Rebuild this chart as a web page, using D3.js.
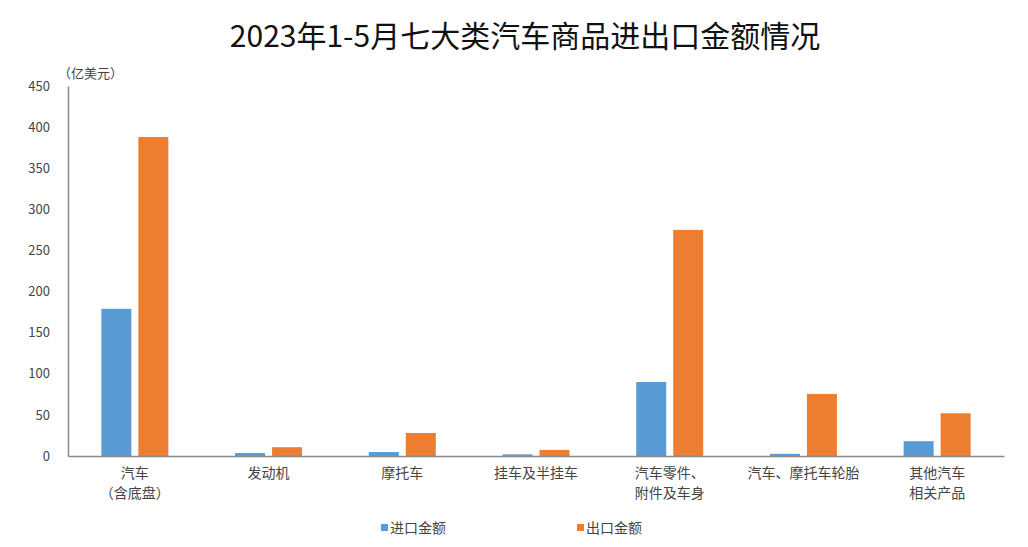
<!DOCTYPE html>
<html>
<head>
<meta charset="utf-8">
<script src="https://cdn.jsdelivr.net/npm/d3@7"></script>
<style>
  body { margin: 0; background: #fff; }
  svg text { font-family: "Noto Sans CJK SC", sans-serif; }
</style>
</head>
<body>
<script>
// dados
var categorias = [['汽车', '（含底盘）'], ['发动机'], ['摩托车'], ['挂车及半挂车'],
  ['汽车零件、', '附件及车身'], ['汽车、摩托车轮胎'], ['其他汽车', '相关产品']]
var importacao = [179, 3.6, 4.8, 2, 90, 2.6, 18]
var exportacao = [388, 10.7, 28, 7.4, 275, 75.5, 52]
var series = ['进口金额', '出口金额']
var cores = ['#5b9bd5', '#ed7d31']
var ticksY = [0, 50, 100, 150, 200, 250, 300, 350, 400, 450]

var largura = 1028, altura = 547
var margem = {topo: 86, direita: 24, base: 91, esquerda: 68}
var w = largura - margem.esquerda - margem.direita
var h = altura - margem.topo - margem.base

var svg = d3.select('body').append('svg')
  .attr('width', largura).attr('height', altura)

svg.append('text')
  .attr('x', 525).attr('y', 47)
  .attr('text-anchor', 'middle')
  .attr('font-size', 30)
  .attr('fill', '#111')
  .text('2023年1-5月七大类汽车商品进出口金额情况')

var g = svg.append('g')
  .attr('transform', 'translate(' + margem.esquerda + ',' + margem.topo + ')')

var x = d3.scaleBand().domain(d3.range(categorias.length)).range([0, w])
var y = d3.scaleLinear().domain([0, 450]).range([h, 0])

// barras
var bw = 30, gap = 7
var grupos = g.selectAll('.grupo').data(d3.range(categorias.length)).enter()
  .append('g').attr('transform', function (i) { return 'translate(' + (x(i) + x.bandwidth() / 2) + ',0)' })

grupos.append('rect')
  .attr('x', -bw - gap / 2).attr('width', bw)
  .attr('y', function (i) { return y(importacao[i]) })
  .attr('height', function (i) { return h - y(importacao[i]) })
  .attr('fill', cores[0])

grupos.append('rect')
  .attr('x', gap / 2).attr('width', bw)
  .attr('y', function (i) { return y(exportacao[i]) })
  .attr('height', function (i) { return h - y(exportacao[i]) })
  .attr('fill', cores[1])

// eixo y
var eixoY = g.append('g').call(d3.axisLeft(y).tickValues(ticksY).tickSize(0).tickPadding(18))
eixoY.select('.domain').attr('stroke', '#898989').attr('stroke-width', 1.5)
eixoY.selectAll('text').attr('font-size', 13).attr('fill', '#444')

// eixo x
var eixoX = g.append('g').attr('transform', 'translate(0,' + h + ')')
  .call(d3.axisBottom(x).tickSize(0).tickFormat(''))
eixoX.select('.domain').attr('stroke', '#898989').attr('stroke-width', 1.5)

eixoX.selectAll('.tick').each(function (i) {
  var t = d3.select(this).append('text')
    .attr('text-anchor', 'middle').attr('font-size', 14).attr('fill', '#444')
  categorias[i].forEach(function (linha, k) {
    t.append('tspan').attr('x', 0).attr('y', 22 + k * 20).text(linha)
  })
})

// unidade
svg.append('text')
  .attr('x', 58).attr('y', 78)
  .attr('font-size', 13).attr('fill', '#444')
  .text('（亿美元）')

// legenda
var legX = [381, 577]
series.forEach(function (s, k) {
  svg.append('rect').attr('x', legX[k]).attr('y', 524).attr('width', 7).attr('height', 7).attr('fill', cores[k])
  svg.append('text').attr('x', legX[k] + 9).attr('y', 533)
    .attr('font-size', 14).attr('fill', '#444').text(s)
})
</script>
</body>
</html>
